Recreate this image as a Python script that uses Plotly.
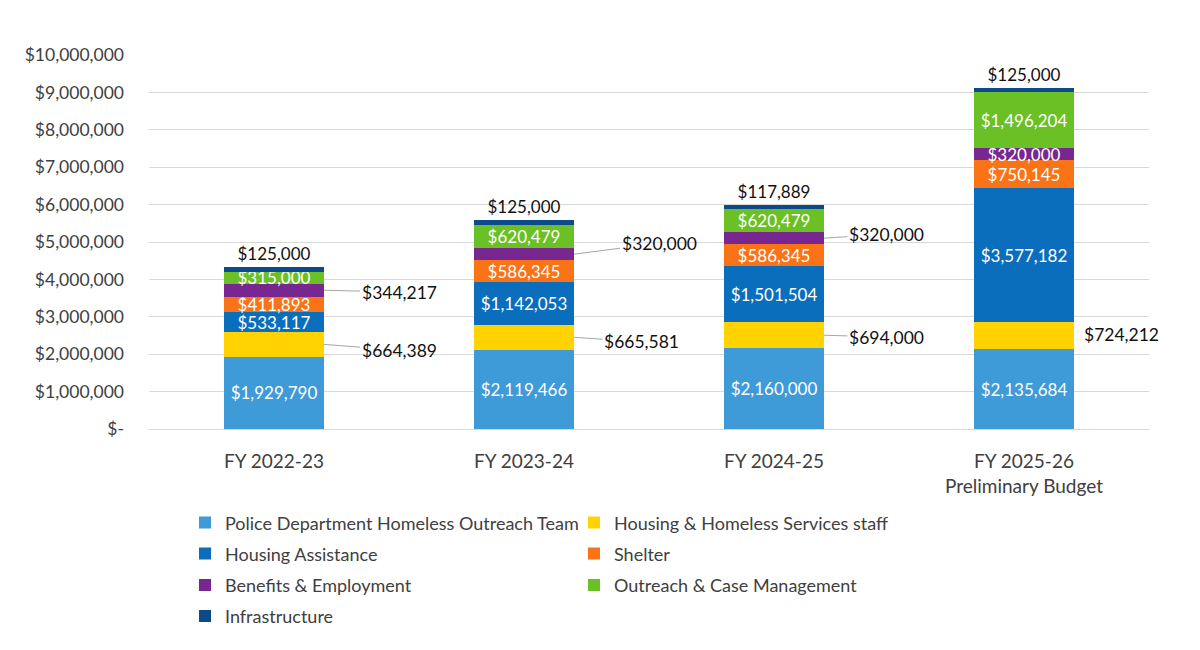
import plotly.graph_objects as go

# data
years = ["FY 2022-23", "FY 2023-24", "FY 2024-25", "FY 2025-26<br>Preliminary Budget"]

police_outreach = [1929790, 2119466, 2160000, 2135684]
hhs_staff = [664389, 665581, 694000, 724212]
housing_assistance = [533117, 1142053, 1501504, 3577182]
shelter = [411893, 586345, 586345, 750145]
benefits = [344217, 320000, 320000, 320000]
outreach_case = [315000, 620479, 620479, 1496204]
infrastructure = [125000, 125000, 117889, 125000]

y_ticks = [0, 1000000, 2000000, 3000000, 4000000, 5000000,
           6000000, 7000000, 8000000, 9000000, 10000000]
y_tick_labels = ["$-", "$1,000,000", "$2,000,000", "$3,000,000", "$4,000,000", "$5,000,000",
                 "$6,000,000", "$7,000,000", "$8,000,000", "$9,000,000", "$10,000,000"]

FONT = "Lato"
x = list(range(len(years)))


def money(v):
    return f"${v:,}"


series = [
    ("Police Department Homeless Outreach Team", police_outreach, "#3f9ad8", "inside"),
    ("Housing & Homeless Services staff", hhs_staff, "#ffd200", "none"),
    ("Housing Assistance", housing_assistance, "#0a6ebd", "inside"),
    ("Shelter", shelter, "#fa7316", "inside"),
    ("Benefits & Employment", benefits, "#77278f", "partial"),
    ("Outreach & Case Management", outreach_case, "#6ac024", "inside"),
    ("Infrastructure", infrastructure, "#0d4a8a", "outside"),
]

# legend rows (two entries per row) -> separate legends so row spacing can match
legend_of = ["legend", "legend", "legend2", "legend2", "legend3", "legend3", "legend4"]

fig = go.Figure()
for (name, vals, color, mode), lg in zip(series, legend_of):
    if mode == "none":
        text = ["" for v in vals]
    elif mode == "partial":
        # only the last bar's label sits inside, others use leader lines
        text = ["" for v in vals[:-1]] + [money(vals[-1])]
    else:
        text = [money(v) for v in vals]
    fig.add_trace(go.Bar(
        x=x, y=vals, name=name, marker=dict(color=color, line=dict(width=0)),
        text=text, textposition="outside" if mode == "outside" else "inside",
        insidetextanchor="middle", textangle=0,
        insidetextfont=dict(color="white", size=17, family=FONT),
        outsidetextfont=dict(color="#111111", size=17, family=FONT),
        legend=lg, hoverinfo="skip",
    ))

# outside labels with leader lines (yellow and purple segments)
callouts = [
    # (bar index, label offset x, label y, segment, show leader)
    (0, 0.50, 2110000, "hhs", True),
    (0, 0.50, 3660000, "ben", True),
    (1, 0.47, 2330000, "hhs", True),
    (1, 0.54, 4970000, "ben", True),
    (2, 0.45, 2460000, "hhs", True),
    (2, 0.45, 5210000, "ben", True),
    (3, 0.39, 2540000, "hhs", False),
]
annotations = []
for i, dx, ly, seg, leader in callouts:
    if seg == "hhs":
        mid = police_outreach[i] + hhs_staff[i] / 2
        val = hhs_staff[i]
    else:
        mid = (police_outreach[i] + hhs_staff[i] + housing_assistance[i]
               + shelter[i] + benefits[i] / 2)
        val = benefits[i]
    if leader:
        annotations.append(dict(
            x=i + 0.2, y=mid, ax=i + dx, ay=ly, axref="x", ayref="y",
            xref="x", yref="y", text=money(val), showarrow=True,
            arrowhead=0, arrowwidth=1, arrowcolor="#a6a6a6", standoff=0,
            font=dict(family=FONT, size=17.5, color="#111111"),
        ))
    else:
        annotations.append(dict(
            x=i + dx, y=ly, xref="x", yref="y", text=money(val), showarrow=False,
            font=dict(family=FONT, size=17.5, color="#111111"),
        ))

legend_style = dict(
    orientation="h", entrywidth=344, entrywidthmode="pixels",
    x=0.036, xanchor="left", yanchor="middle", traceorder="normal",
    font=dict(family=FONT, size=18, color="#404040"),
    bgcolor="rgba(0,0,0,0)",
)

fig.update_layout(
    width=1200, height=650,
    barmode="stack", bargap=0.6,
    plot_bgcolor="white", paper_bgcolor="white",
    margin=dict(l=141, r=59, t=47, b=229),
    font=dict(family=FONT, color="#404040"),
    showlegend=True,
    legend=dict(legend_style, y=-0.251),
    legend2=dict(legend_style, y=-0.334),
    legend3=dict(legend_style, y=-0.418),
    legend4=dict(legend_style, y=-0.501),
    annotations=annotations,
    uniformtext=dict(minsize=17, mode="show"),
)
fig.update_xaxes(
    tickvals=x, ticktext=years, range=[-0.5, 3.5],
    showgrid=False, zeroline=False, showline=False, ticks="",
    tickfont=dict(family=FONT, size=19, color="#404040"),
    ticklabelstandoff=19,
)
fig.update_yaxes(
    range=[0, 10000000], tickvals=y_ticks, ticktext=y_tick_labels,
    showgrid=True, gridcolor="#d9d9d9", gridwidth=1,
    zeroline=True, zerolinecolor="#d9d9d9", zerolinewidth=1,
    showline=False, ticks="",
    tickfont=dict(family=FONT, size=17.5, color="#404040"),
    ticklabelstandoff=24,
)

fig.write_html("out.html")
